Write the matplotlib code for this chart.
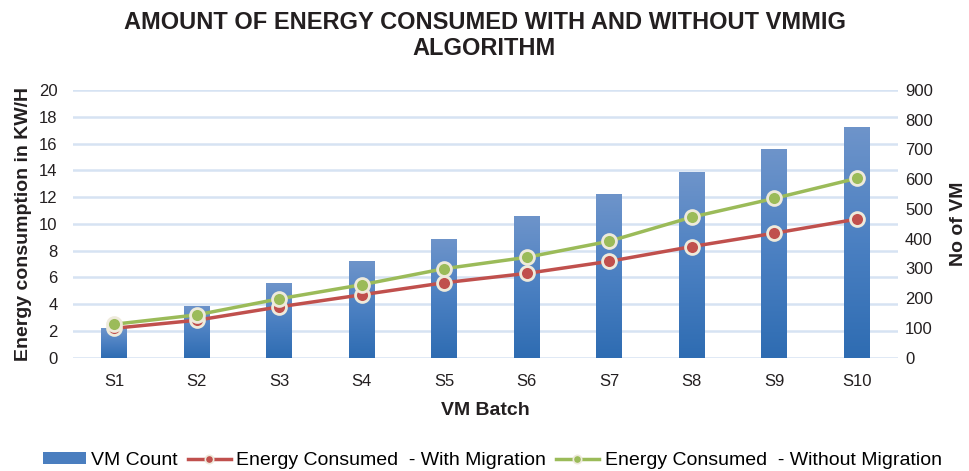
import numpy as np
import matplotlib
matplotlib.use('Agg')
import matplotlib.pyplot as plt
from matplotlib.patches import Patch
from matplotlib.lines import Line2D
from matplotlib.colors import LinearSegmentedColormap

batches = ['S1', 'S2', 'S3', 'S4', 'S5', 'S6', 'S7', 'S8', 'S9', 'S10']
vm_count = [100, 175, 250, 325, 400, 475, 550, 625, 700, 775]
with_migration = [2.2, 2.8, 3.8, 4.7, 5.6, 6.3, 7.2, 8.3, 9.3, 10.35]
without_migration = [2.5, 3.2, 4.4, 5.45, 6.65, 7.5, 8.7, 10.5, 11.9, 13.4]

plt.rcParams['font.family'] = ['Liberation Sans', 'DejaVu Sans']

red = '#c0504d'
green = '#9bbb59'
grid_col = '#d6e3f3'
txt = '#231f20'

fig = plt.figure(figsize=(9.69, 4.71), dpi=100)
ax = fig.add_axes([0.0753, 0.2405, 0.8514, 0.5685])
ax2 = ax.twinx()   # bars (right scale)
ax3 = ax.twinx()   # lines (left scale)

x = np.arange(len(batches))

# grid + left scale
ax.set_ylim(0, 20)
ax.set_yticks(range(0, 21, 2))
ax.grid(axis='y', color=grid_col, linewidth=1.8)
ax.set_xlim(-0.5, len(batches) - 0.5)
ax.set_xticks(x)
ax.set_xticklabels(batches)
ax.tick_params(length=0, labelsize=12, colors=txt, pad=12)
ax.tick_params(axis='y', pad=11)
ax.set_ylabel('Energy consumption in KW/H', fontsize=14, fontweight='bold', color=txt)
ax.yaxis.set_label_coords(-0.05, 0.5)
ax.set_xlabel('VM Batch', fontsize=14, fontweight='bold', color=txt)
ax.xaxis.set_label_coords(0.5, -0.165)

# bars with vertical gradient
cmap = LinearSegmentedColormap.from_list('bar', ['#2e6cb2', '#4b80c2', '#6e94ca'])
grad = np.linspace(0, 1, 256).reshape(-1, 1)
bars = ax2.bar(x, vm_count, width=0.31, color='#4a7ebf', zorder=2)
for b in bars:
    bx0, by0 = b.get_x(), b.get_y()
    img = ax2.imshow(grad, cmap=cmap, aspect='auto', origin='lower',
                     extent=(bx0, bx0 + b.get_width(), by0, by0 + b.get_height()), zorder=3)
    img.set_clip_path(b)
ax2.set_xlim(-0.5, len(batches) - 0.5)
ax2.set_ylim(0, 900)
ax2.set_yticks(range(0, 901, 100))
ax2.tick_params(length=0, labelsize=12, colors=txt, pad=5)
ax2.set_ylabel('No of VM', fontsize=14, fontweight='bold', color=txt)
ax2.yaxis.set_label_coords(1.063, 0.5)

# lines
mk = dict(marker='o', markersize=10, markeredgecolor='#eeeadb', markeredgewidth=2)
ax3.plot(x, with_migration, color=red, linewidth=2.5, markerfacecolor=red, **mk)
ax3.plot(x, without_migration, color=green, linewidth=2.5, markerfacecolor=green, **mk)
ax3.set_ylim(0, 20)
ax3.set_xlim(-0.5, len(batches) - 0.5)
ax3.axis('off')

for a in (ax, ax2, ax3):
    for s in a.spines.values():
        s.set_visible(False)

fig.text(0.5, 0.953, 'AMOUNT OF ENERGY CONSUMED WITH AND WITHOUT VMMIG',
         ha='center', va='center', fontsize=17, fontweight='bold', color=txt)
fig.text(0.5, 0.897, 'ALGORITHM',
         ha='center', va='center', fontsize=17, fontweight='bold', color=txt)

handles = [
    Patch(facecolor='#4a7ebf', edgecolor='none'),
    Line2D([], [], color=red, linewidth=2.5, marker='o', markersize=6,
           markerfacecolor=red, markeredgecolor='#eeeadb', markeredgewidth=1.2),
    Line2D([], [], color=green, linewidth=2.5, marker='o', markersize=6,
           markerfacecolor=green, markeredgecolor='#eeeadb', markeredgewidth=1.2),
]
labels = ['VM Count', 'Energy Consumed  - With Migration', 'Energy Consumed  - Without Migration']
fig.legend(handles, labels, loc='center', bbox_to_anchor=(0.508, 0.022), ncol=3,
           frameon=False, handlelength=2.2, handleheight=0.6, handletextpad=0.3,
           columnspacing=0.5, prop={'size': 14})

fig.savefig('out.png', dpi=100)
